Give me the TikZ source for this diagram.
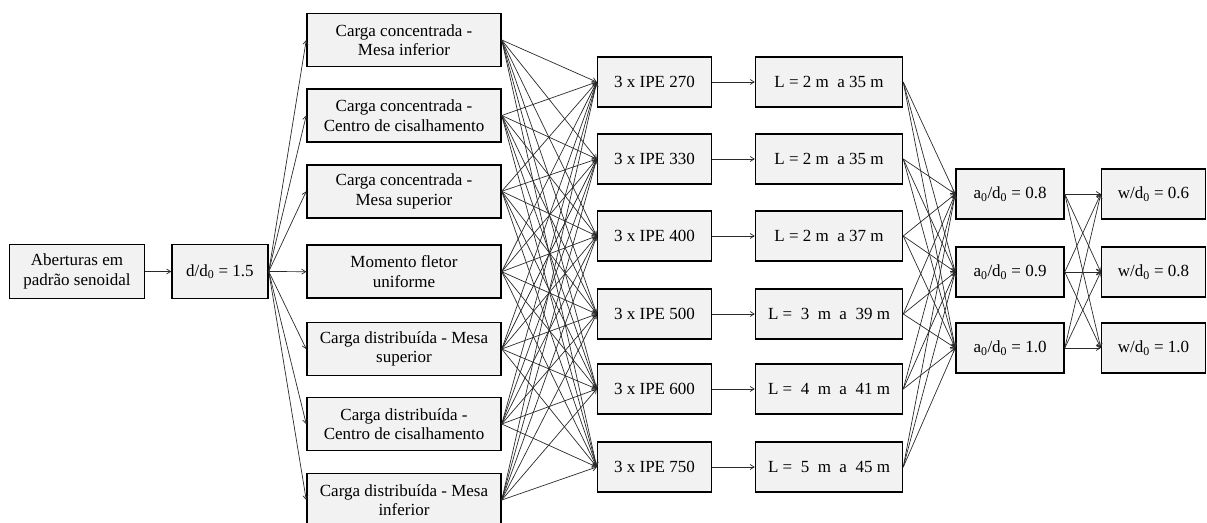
\documentclass[tikz,border=0pt]{standalone}
\usepackage{fontspec}
\setmainfont{Liberation Serif}
\usetikzlibrary{arrows.meta}
\tikzset{
  box/.style={draw=black, line width=1.5pt, fill=boxgray, inner sep=0pt, align=center,
    font=\fontsize{17}{19.5}\selectfont},
  conn/.style={draw=linegray, line width=0.7pt, -{Straight Barb[length=4pt,width=5pt]}},
}
\definecolor{boxgray}{HTML}{F2F2F2}
\definecolor{linegray}{HTML}{2A2A2A}
\newcommand{\zsub}{\textsubscript{0}}
\begin{document}
\begin{tikzpicture}[x=1pt,y=-1pt]
\useasboundingbox (0,0) rectangle (1207,522);
\node[box, minimum width=135pt, minimum height=54pt] (A) at (77,271.5) {Aberturas em\\padrão senoidal};
\node[box, minimum width=96pt, minimum height=54pt] (D) at (220,271.5) {d/d\zsub{} = 1.5};
\foreach \i/\y/\t in {1/40/{Carga concentrada -\\Mesa inferior},
                      2/115.5/{Carga concentrada -\\Centro de cisalhamento},
                      3/191.3/{Carga concentrada -\\Mesa superior},
                      4/271.7/{Momento fletor\\uniforme},
                      5/349/{Carga distribuída - Mesa\\superior},
                      6/424/{Carga distribuída -\\Centro de cisalhamento},
                      7/500/{Carga distribuída - Mesa\\inferior}}{
  \node[box, minimum width=194pt, minimum height=53pt] (C\i) at (404,\y) {\t};
}
\foreach \i/\y/\p/\l in {1/82/270/{L = 2 m\ \ a 35 m},
                         2/159/330/{L = 2 m\ \ a 35 m},
                         3/236/400/{L = 2 m\ \ a 37 m},
                         4/314/500/{L =\ \ 3\ \ m\ \ a\ \ 39 m},
                         5/389/600/{L =\ \ 4\ \ m\ \ a\ \ 41 m},
                         6/467/750/{L =\ \ 5\ \ m\ \ a\ \ 45 m}}{
  \node[box, minimum width=114pt, minimum height=50pt] (I\i) at (654.5,\y) {3 x IPE \p};
  \node[box, minimum width=147pt, minimum height=50pt] (L\i) at (829,\y) {\l};
}
\foreach \i/\y/\a/\w in {1/194/0.8/0.6, 2/272/0.9/0.8, 3/348/1.0/1.0}{
  \node[box, minimum width=108pt, minimum height=50pt] (R\i) at (1010,\y) {a\zsub/d\zsub{} = \a};
  \node[box, minimum width=104pt, minimum height=50pt] (W\i) at (1153.5,\y) {w/d\zsub{} = \w};
}
\draw[conn] (A.east) -- (D.west);
\foreach \i in {1,...,7}{
  \draw[conn] (D.east) -- (C\i.west);
  \foreach \j in {1,...,6}{
    \draw[conn] (C\i.east) -- (I\j.west);
  }
}
\foreach \j in {1,...,6}{
  \draw[conn] (I\j.east) -- (L\j.west);
  \foreach \k in {1,2,3}{
    \draw[conn] (L\j.east) -- (R\k.west);
  }
}
\foreach \k in {1,2,3}{
  \foreach \m in {1,2,3}{
    \draw[conn] (R\k.east) -- (W\m.west);
  }
}
\end{tikzpicture}
\end{document}
